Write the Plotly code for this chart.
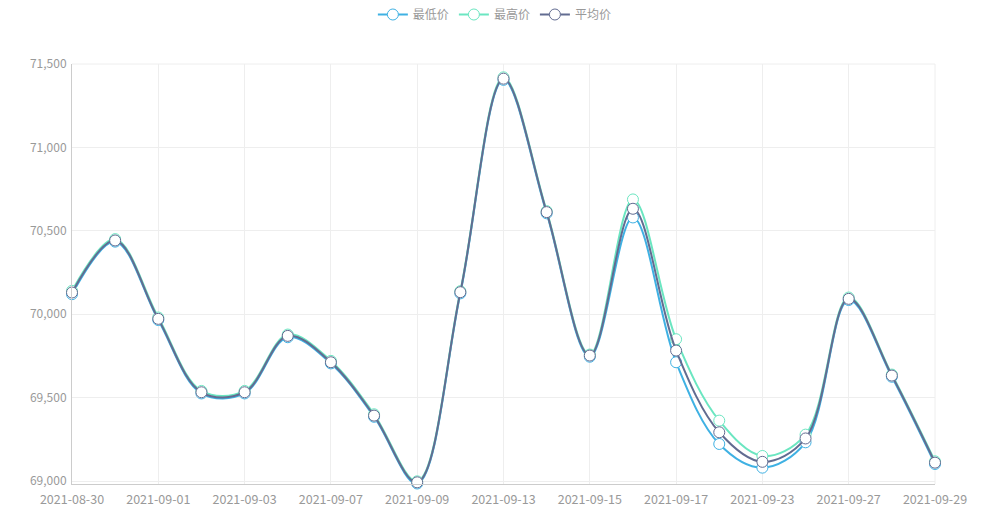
import plotly.graph_objects as go

dates = ["2021-08-30", "2021-08-31", "2021-09-01", "2021-09-02", "2021-09-03",
         "2021-09-06", "2021-09-07", "2021-09-08", "2021-09-09", "2021-09-10",
         "2021-09-13", "2021-09-14", "2021-09-15", "2021-09-16", "2021-09-17",
         "2021-09-22", "2021-09-23", "2021-09-24", "2021-09-27", "2021-09-28",
         "2021-09-29"]

low_price = [70120, 70435, 69965, 69525, 69525, 69862, 69705, 69385, 68985, 70125,
             71405, 70605, 69745, 70580, 69712, 69222, 69080, 69232, 70085, 69625,
             69102]
high_price = [70140, 70450, 69980, 69540, 69540, 69878, 69720, 69400, 68998, 70138,
              71420, 70618, 69758, 70688, 69850, 69362, 69150, 69278, 70100, 69638,
              69118]
avg_price = [70130, 70442, 69972, 69532, 69532, 69870, 69712, 69392, 68992, 70132,
             71412, 70612, 69752, 70632, 69782, 69292, 69115, 69255, 70092, 69632,
             69110]

series_names = ["最低价", "最高价", "平均价"]
series_colors = ["#3fb1e3", "#6be6c1", "#626c91"]
series_values = [low_price, high_price, avg_price]

y_ticks = [69000, 69500, 70000, 70500, 71000, 71500]

fig = go.Figure()
for name, color, vals in zip(series_names, series_colors, series_values):
    fig.add_trace(go.Scatter(
        x=dates, y=vals, name=name, mode="lines+markers",
        line=dict(color=color, width=2, shape="spline", smoothing=1.0),
        marker=dict(symbol="circle", size=11, color="#ffffff",
                    line=dict(color=color, width=1)),
        cliponaxis=False,
    ))

fig.update_layout(
    width=981, height=511,
    margin=dict(l=72, r=46, t=64, b=27),
    paper_bgcolor="#ffffff", plot_bgcolor="#ffffff",
    font=dict(family="Noto Sans CJK SC, Noto Sans, sans-serif", size=12, color="#999999"),
    legend=dict(orientation="h", x=0.49, xanchor="center", y=1.0, yanchor="top",
                yref="container", font=dict(size=12, color="#999999"),
                itemwidth=30, bgcolor="rgba(0,0,0,0)", tracegroupgap=0),
    showlegend=True,
)

fig.update_xaxes(
    type="category", range=[0, len(dates) - 1],
    tickmode="linear", tick0=0, dtick=2,
    showgrid=True, gridcolor="#eeeeee", gridwidth=1,
    showline=True, linecolor="#cccccc", linewidth=1,
    ticks="", ticklen=0, tickfont=dict(size=12.5, color="#999999"),
    ticklabelstandoff=4, automargin=False,
    mirror=False, zeroline=False,
)
fig.update_yaxes(
    range=[68982, 71500], tickmode="array", tickvals=y_ticks,
    ticktext=[f"{v:,}" for v in y_ticks],
    showgrid=True, gridcolor="#eeeeee", gridwidth=1,
    showline=True, linecolor="#cccccc", linewidth=1,
    ticks="", tickfont=dict(size=12, color="#999999"),
    ticklabelstandoff=2, automargin=False,
    zeroline=False,
)
# right border and top gridlines of the grid
fig.add_shape(type="line", xref="paper", yref="paper", x0=1, x1=1, y0=0, y1=1,
              line=dict(color="#eeeeee", width=1), layer="below")
fig.add_shape(type="line", xref="paper", yref="paper", x0=0, x1=1, y0=1, y1=1,
              line=dict(color="#eeeeee", width=1), layer="below")

fig.write_html(
    "out.html",
    config={"displayModeBar": False},
    post_script="document.body.style.margin='0';document.body.style.overflow='hidden';",
)
